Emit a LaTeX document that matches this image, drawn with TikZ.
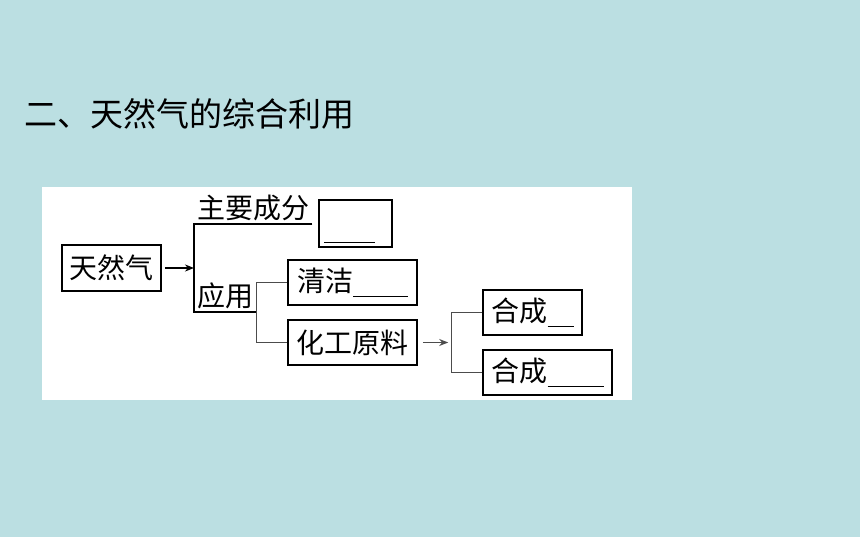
\documentclass[tikz,border=0pt]{standalone}
\usepackage{fontspec}
\newfontfamily\cjk{Noto Sans CJK SC}
\usetikzlibrary{calc,arrows.meta}
\definecolor{bgblue}{RGB}{187,223,226}
\newcommand\answerline[1]{\rule[-6pt]{#1}{1pt}}
\begin{document}
\begin{tikzpicture}[x=1pt,y=-1pt,font=\cjk\fontsize{28}{28}\selectfont,
box/.style={draw,line width=1.6pt,inner sep=0pt,minimum height=45pt},
label/.style={inner xsep=3pt,inner ysep=3pt,anchor=south west},
fork/.style={line width=1.4pt,gray!60!black}]
\fill[bgblue](0,0)rectangle(860,537);
\useasboundingbox(0,0)rectangle(860,537);
\fill[white](42,187)rectangle(632,400);
\node[anchor=west,inner sep=0pt,font=\cjk\fontsize{33}{33}\selectfont](title)at(24,114){二、天然气的综合利用};
%
\node[box,minimum width=99pt,minimum height=46pt](tianranqi)at(111.5,268){天然气};
\node[label](zhuyao)at(194,224){主要成分};
\node[label](yingyong)at(194,312){应用};
\node[box,minimum width=73pt,minimum height=47pt](chengfen)at(355.5,223.5){};
\node[box,minimum width=129pt](qingjie)at(352.5,282.5){清洁\answerline{55pt}};
\node[box,minimum width=129pt](huagong)at(352.5,342.5){化工原料};
\node[box,minimum width=99pt](hecheng1)at(532.5,312.5){合成\answerline{26pt}};
\node[box,minimum width=129pt](hecheng2)at(547.5,372.5){合成\answerline{56pt}};
%
\draw[line width=1.6pt](zhuyao.south east)--(zhuyao.south west)--(yingyong.south west)--(yingyong.south east);
\draw[-{Stealth[length=9pt,width=7pt]},line width=1.6pt,shorten <=3pt](tianranqi.east)--(tianranqi.east-|zhuyao.west);
\draw[line width=1.2pt]($(chengfen.south west)+(6,-5)$)--($(chengfen.south east)+(-18,-5)$);
\draw[fork](qingjie.west)--++(-31,0)|-(huagong.west);
\draw[fork](hecheng1.west)--++(-31,0)coordinate(hcfork)|-(hecheng2.west);
\draw[-{Stealth[length=9pt,width=7pt]},fork,shorten <=5pt,shorten >=3pt](huagong.east)--(huagong.east-|hcfork);
\end{tikzpicture}
\end{document}
